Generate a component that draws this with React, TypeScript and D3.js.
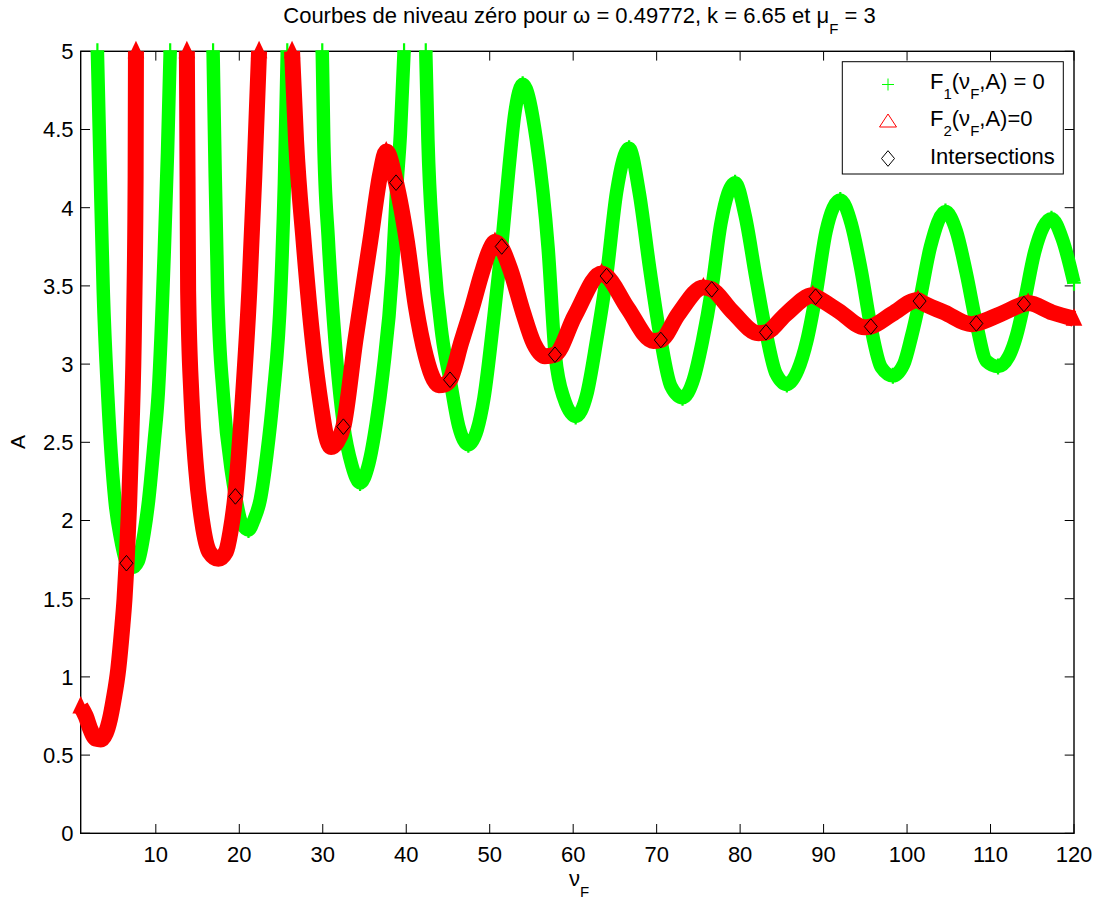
import React from 'react';
import * as d3 from 'd3';

type Pt = [number, number];

// Zero-level curve F1(nu_F, A) = 0, one array per connected branch: [nu_F, A]
const F1_BRANCH_1: Pt[] = [
  [3.0, 5.0], [3.35, 4.2], [3.7, 3.47], [4.25, 2.79], [5.1, 2.13], [5.8, 1.88],
  [6.5, 1.73], [7.2, 1.7], [7.9, 1.74], [8.6, 1.92], [9.14, 2.13], [9.8, 2.5],
  [10.3, 2.82], [11.0, 3.7], [11.4, 4.35], [11.72, 5.0],
];
const F1_BRANCH_2: Pt[] = [
  [16.86, 5.0], [17.1, 4.25], [17.4, 3.47], [18.1, 2.79], [19.1, 2.3], [19.53, 2.16],
  [20.3, 1.98], [21.1, 1.94], [21.8, 2.01], [22.5, 2.13], [23.3, 2.42], [24.05, 2.79],
  [24.97, 3.47], [25.4, 4.15], [25.75, 5.0],
];
const F1_BRANCH_3: Pt[] = [
  [29.94, 5.0], [30.12, 4.43], [30.67, 3.79], [31.47, 3.15], [32.47, 2.62], [33.5, 2.35],
  [34.47, 2.24], [35.5, 2.36], [36.4, 2.62], [37.2, 2.94], [38.32, 3.58], [38.85, 4.12],
  [39.3, 4.47], [39.74, 5.0],
];
const F1_BRANCH_4: Pt[] = [
  [42.34, 5.0], [42.6, 4.43], [43.2, 3.79], [44.3, 3.18], [45.25, 2.9], [46.3, 2.6],
  [47.44, 2.485], [48.5, 2.58], [49.3, 2.78], [50.5, 3.3], [51.44, 3.76], [52.3, 4.25],
  [53.0, 4.6], [53.95, 4.79], [55.6, 4.43], [57.0, 3.74], [57.85, 3.06], [58.9, 2.78],
  [60.3, 2.665], [61.6, 2.8], [62.8, 3.15], [64.0, 3.563], [65.2, 4.1], [66.7, 4.38],
  [67.9, 4.1], [69.2, 3.6], [70.5, 3.154], [71.7, 2.86], [73.1, 2.785], [74.4, 2.9],
  [75.5, 3.15], [76.6, 3.478], [77.7, 3.9], [79.4, 4.16], [80.6, 3.95], [81.9, 3.55],
  [83.1, 3.203], [84.3, 2.94], [85.6, 2.87], [86.9, 2.96], [88.0, 3.15], [89.04, 3.431],
  [90.3, 3.85], [92.0, 4.05], [93.3, 3.9], [94.5, 3.6], [95.66, 3.24], [96.9, 2.98],
  [98.3, 2.925], [99.6, 3.0], [100.5, 3.17], [101.5, 3.403], [102.8, 3.75], [104.6, 3.975],
  [105.9, 3.85], [107.1, 3.58], [108.3, 3.26], [109.5, 3.02], [110.9, 2.985], [112.2, 3.05],
  [113.1, 3.18], [114.0, 3.384], [115.3, 3.72], [117.3, 3.93], [118.6, 3.8], [120.0, 3.52],
];

// Zero-level curve F2(nu_F, A) = 0
const F2_BRANCH_1: Pt[] = [
  [1.0, 0.81], [1.6, 0.75], [2.2, 0.66], [2.8, 0.605], [3.4, 0.6], [4.0, 0.64],
  [4.5, 0.73], [4.93, 0.85], [5.5, 1.05], [5.95, 1.3], [6.25, 1.5], [6.5, 1.73],
  [6.8, 2.1], [7.08, 2.56], [7.4, 3.3], [7.58, 4.2], [7.62, 5.0],
];
const F2_BRANCH_2: Pt[] = [
  [13.72, 5.0], [13.8, 4.2], [13.87, 3.47], [14.27, 2.79], [14.83, 2.33], [15.56, 1.99],
  [16.4, 1.8], [17.5, 1.755], [18.4, 1.8], [18.95, 1.93], [19.53, 2.16], [20.45, 2.8],
  [21.2, 3.47], [21.8, 4.2], [22.37, 5.0],
];
const F2_BRANCH_3: Pt[] = [
  [26.32, 5.0], [26.8, 4.43], [27.7, 3.79], [28.8, 3.15], [29.8, 2.73], [30.4, 2.54],
  [31.0, 2.47], [31.7, 2.5], [32.47, 2.6], [33.9, 3.15], [35.7, 3.79], [36.9, 4.22],
  [37.6, 4.36], [38.78, 4.16], [40.06, 3.79], [41.15, 3.37], [42.35, 3.05], [43.3, 2.9],
  [43.9, 2.865], [44.6, 2.87], [45.25, 2.9], [46.6, 3.14], [47.93, 3.37], [49.04, 3.58],
  [50.0, 3.73], [50.63, 3.78], [51.44, 3.74], [52.5, 3.6], [54.0, 3.33], [55.3, 3.13],
  [56.6, 3.05], [57.82, 3.06], [60.2, 3.31], [63.4, 3.58], [64.0, 3.563], [66.5, 3.36],
  [69.6, 3.148], [70.5, 3.154], [72.6, 3.32], [75.6, 3.49], [76.6, 3.478], [79.0, 3.34],
  [82.2, 3.198], [83.1, 3.203], [85.5, 3.32], [88.7, 3.44], [89.04, 3.431], [91.8, 3.34],
  [94.9, 3.235], [95.66, 3.24], [98.2, 3.32], [101.3, 3.41], [101.5, 3.403], [104.5, 3.33],
  [107.7, 3.255], [108.3, 3.26], [111.2, 3.32], [114.0, 3.384], [114.5, 3.39], [117.4, 3.33],
  [120.0, 3.29],
];

// Common zeros of F1 and F2
const INTERSECTIONS: Pt[] = [
  [6.48, 1.727], [19.53, 2.154], [32.47, 2.6], [38.78, 4.16], [45.25, 2.9], [51.44, 3.752],
  [57.82, 3.06], [64.0, 3.563], [70.5, 3.154], [76.6, 3.478], [83.1, 3.203], [89.04, 3.431],
  [95.66, 3.24], [101.5, 3.403], [108.3, 3.26], [114.0, 3.384],
];

const X_TICKS = [10, 20, 30, 40, 50, 60, 70, 80, 90, 100, 110, 120];
const Y_TICKS = [0, 0.5, 1, 1.5, 2, 2.5, 3, 3.5, 4, 4.5, 5];

const F1_BRANCHES = [F1_BRANCH_1, F1_BRANCH_2, F1_BRANCH_3, F1_BRANCH_4];
const F2_BRANCHES = [F2_BRANCH_1, F2_BRANCH_2, F2_BRANCH_3];

const GREEN = '#00ff00';
const RED = '#ff0000';
const FONT = '"Liberation Sans", Arial, Helvetica, sans-serif';

const W = 1103;
const H = 901;
const left = 80.7;
const right = 1074;
const top = 51.3;
const bottom = 833.3;

const x = d3.scaleLinear().domain([1, 120]).range([left, right]);
const y = d3.scaleLinear().domain([0, 5]).range([bottom, top]);

const line = d3
  .line<Pt>()
  .x((d) => x(d[0]))
  .y((d) => y(d[1]))
  .curve(d3.curveMonotoneX);

// End points plus turning points of a branch
function turningPoints(branch: Pt[], maximaOnly: boolean): Pt[] {
  return branch.filter((p, i) => {
    if (i === 0 || i === branch.length - 1) return true;
    const a = branch[i - 1][1];
    const c = branch[i + 1][1];
    const isMax = p[1] > a && p[1] > c;
    const isMin = p[1] < a && p[1] < c;
    return maximaOnly ? isMax : isMax || isMin;
  });
}

const plusPath = (hx: number, hy: number) => `M${-hx},0H${hx}M0,${-hy}V${hy}`;
const trianglePath = (hw: number, up: number, down: number) =>
  `M0,${-up}L${hw},${down}L${-hw},${down}Z`;
const diamondPath = (hw: number, hh: number) => `M0,${-hh}L${hw},0L0,${hh}L${-hw},0Z`;

const SUB = { fontSize: 15 };

export default function App() {
  return (
    <svg
      width={W}
      height={H}
      style={{ position: 'absolute', left: 0, top: 0, background: '#fff' }}
      fontFamily={FONT}
    >
      <rect x={0} y={0} width={W} height={H} fill="#fff" />

      {/* axes box and ticks */}
      <g stroke="#000" strokeWidth={1}>
        {X_TICKS.map((t) => (
          <g key={`xt${t}`}>
            <line x1={x(t)} x2={x(t)} y1={bottom} y2={bottom - 9.3} />
            <line x1={x(t)} x2={x(t)} y1={top} y2={top + 9.3} />
          </g>
        ))}
        {Y_TICKS.map((t) => (
          <g key={`yt${t}`}>
            <line x1={left} x2={left + 9.3} y1={y(t)} y2={y(t)} />
            <line x1={right} x2={right - 9.3} y1={y(t)} y2={y(t)} />
          </g>
        ))}
        <rect x={left} y={top} width={right - left} height={bottom - top} fill="none" strokeWidth={1.4} />
      </g>

      <g fontSize={22} fill="#000">
        {X_TICKS.map((t) => (
          <text key={`xl${t}`} x={x(t)} y={862} textAnchor="middle">
            {t}
          </text>
        ))}
        {Y_TICKS.map((t) => (
          <text key={`yl${t}`} x={73.5} y={y(t) + 7.8} textAnchor="end">
            {String(t)}
          </text>
        ))}
      </g>

      {/* title and axis labels */}
      <text x={579.5} y={23} fontSize={22} textAnchor="middle" fill="#000">
        Courbes de niveau zéro pour ω = 0.49772, k = 6.65 et μ
        <tspan dy={11} style={SUB}>F</tspan>
        <tspan dy={-11}> = 3</tspan>
      </text>
      <text x={579} y={886} fontSize={22} textAnchor="middle" fill="#000">
        ν<tspan dy={11} style={SUB}>F</tspan>
      </text>
      <text transform="translate(25,442) rotate(-90)" fontSize={21} textAnchor="middle" fill="#000">
        A
      </text>

      {/* F1 = 0 */}
      <g>
        {F1_BRANCHES.map((b, i) => (
          <path key={`g${i}`} d={line(b) ?? ''} fill="none" stroke={GREEN} strokeWidth={13.5} strokeLinejoin="round" />
        ))}
        {F1_BRANCHES.flatMap((b, i) =>
          turningPoints(b, false).map((p, j) => (
            <path
              key={`gm${i}-${j}`}
              transform={`translate(${x(p[0])},${y(p[1])})`}
              d={plusPath(6.75, 8)}
              stroke={GREEN}
              strokeWidth={2.2}
              fill="none"
            />
          ))
        )}
      </g>

      {/* F2 = 0 */}
      <g>
        {F2_BRANCHES.map((b, i) => (
          <path key={`r${i}`} d={line(b) ?? ''} fill="none" stroke={RED} strokeWidth={16} strokeLinejoin="round" />
        ))}
        {F2_BRANCHES.flatMap((b, i) =>
          turningPoints(b, true).map((p, j) => (
            <path
              key={`rm${i}-${j}`}
              transform={`translate(${x(p[0])},${y(p[1])})`}
              d={trianglePath(8.3, 10.5, 7)}
              fill={RED}
            />
          ))
        )}
      </g>

      {/* intersections */}
      <g fill="none" stroke="#000" strokeWidth={1}>
        {INTERSECTIONS.map((p, i) => (
          <path key={`d${i}`} transform={`translate(${x(p[0])},${y(p[1])})`} d={diamondPath(6.5, 7.8)} />
        ))}
      </g>

      {/* legend */}
      <g>
        <rect x={842.3} y={61.7} width={221} height={112.3} fill="#fff" stroke="#000" strokeWidth={1} />
        <path transform="translate(888,84.5)" d={plusPath(6, 6)} stroke={GREEN} strokeWidth={1} fill="none" />
        <path transform="translate(888,121.5)" d={trianglePath(8.5, 7.5, 5.5)} stroke={RED} strokeWidth={1} fill="none" />
        <path transform="translate(888,158.5)" d={diamondPath(6.5, 7.8)} stroke="#000" strokeWidth={1} fill="none" />
        <g fontSize={22} fill="#000">
          <text x={930} y={88.5}>
            F<tspan dy={10} style={SUB}>1</tspan>
            <tspan dy={-10}>(ν</tspan>
            <tspan dy={10} style={SUB}>F</tspan>
            <tspan dy={-10}>,A) = 0</tspan>
          </text>
          <text x={930} y={126}>
            F<tspan dy={10} style={SUB}>2</tspan>
            <tspan dy={-10}>(ν</tspan>
            <tspan dy={10} style={SUB}>F</tspan>
            <tspan dy={-10}>,A)=0</tspan>
          </text>
          <text x={930} y={163.5}>Intersections</text>
        </g>
      </g>
    </svg>
  );
}
